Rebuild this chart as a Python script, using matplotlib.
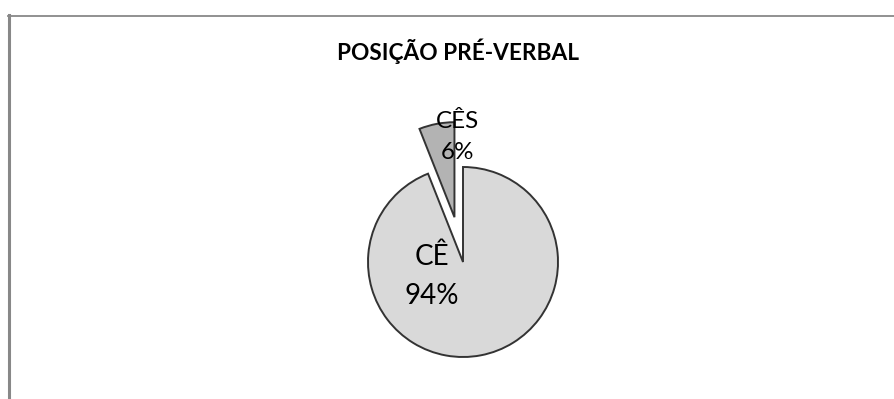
import matplotlib.pyplot as plt
from matplotlib.lines import Line2D

# data
labels = ['CÊ', 'CÊS']
shares = [94, 6]
colors = ['#d9d9d9', '#b3b3b3']
explode_frac = [0, 0.48]   # fraction of radius

W, H = 895, 399
R = 95
fig = plt.figure(figsize=(W / 100, H / 100), dpi=100)
plt.rcParams['font.family'] = ['Lato', 'DejaVu Sans']

# axes in pixel units (y up)
ax = fig.add_axes([0, 0, 1, 1])
ax.axis('off')

# pie explode is in data units, so scale by radius
wedges, _ = ax.pie(shares, colors=colors, explode=[e * R for e in explode_frac],
                   startangle=90, counterclock=False, center=(463, 137), radius=R,
                   wedgeprops=dict(edgecolor='#333333', linewidth=1.4))
ax.set_xlim(0, W)
ax.set_ylim(0, H)
ax.set_aspect('equal')

# data labels
ax.text(432, 123, f'{labels[0]}\n{shares[0]}%', ha='center', va='center',
        fontsize=20, linespacing=1.6, color='black')
ax.text(458, 262, f'{labels[1]}\n{shares[1]}%', ha='center', va='center',
        fontsize=17.5, linespacing=1.55, color='black')

fig.text(458 / W, 1 - 51 / H, 'POSIÇÃO PRÉ-VERBAL', ha='center', va='center',
         fontsize=16.3, fontweight='bold')

# chart border (top and left only visible)
fig.add_artist(Line2D([8 / W, 1], [1 - 16 / H, 1 - 16 / H],
                      transform=fig.transFigure, color='#888888', linewidth=1.3))
fig.add_artist(Line2D([9.5 / W, 9.5 / W], [0, 1 - 15 / H],
                      transform=fig.transFigure, color='#888888', linewidth=2.2))

fig.savefig('out.png', dpi=100)
